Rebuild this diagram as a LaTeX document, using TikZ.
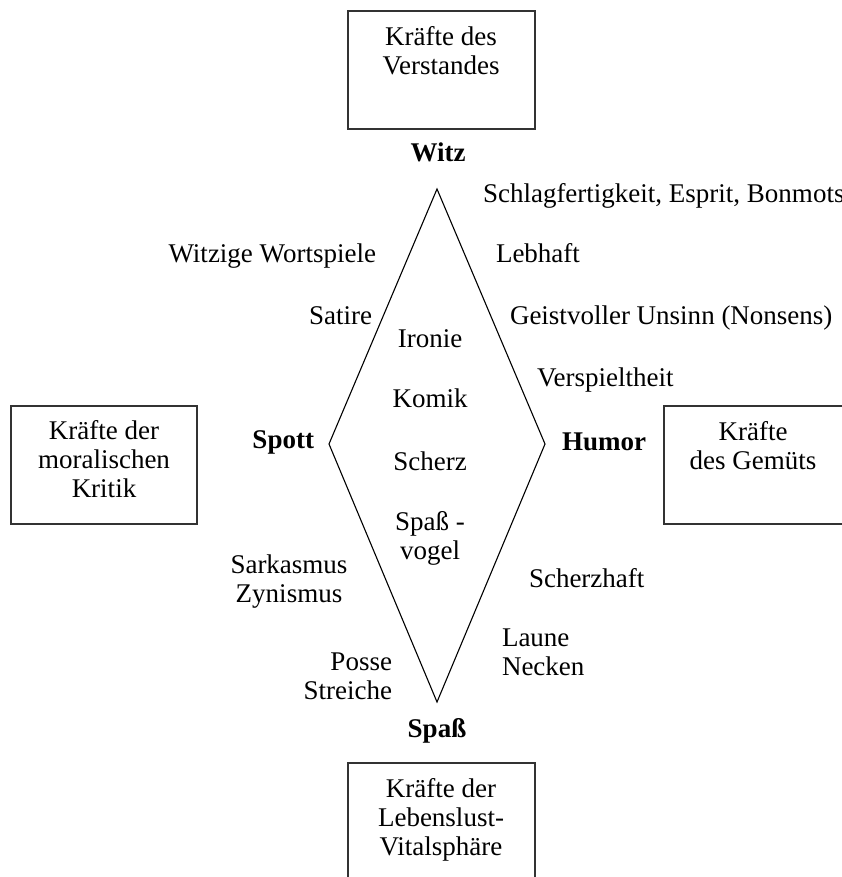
\documentclass[tikz,border=0pt]{standalone}
\usepackage{fontspec}
\setmainfont{Liberation Serif}
\begin{document}
\begin{tikzpicture}[x=1pt,y=-1pt,
  every node/.style={inner sep=0pt, outer sep=0pt, font=\fontsize{27}{29}\selectfont},
  forcebox/.style={draw=black!80, line width=1.3pt, anchor=north west},
  boxtext/.style={align=center, anchor=base},
  word/.style={anchor=base},
  wordl/.style={anchor=base west},
  wordr/.style={anchor=base east},
  pole/.style={anchor=base, font=\fontsize{27}{29}\selectfont\bfseries},
  edge/.style={draw=black, line width=1.1pt, line join=miter}]
\useasboundingbox (0,0) rectangle (841,877);

% four boxes with the kinds of forces
\node[forcebox, minimum width=187pt, minimum height=118pt] (verstand) at (348,11) {};
\node[forcebox, minimum width=186pt, minimum height=118pt] (kritik) at (11,406) {};
\node[forcebox, minimum width=200pt, minimum height=118pt] (gemuet) at (664,406) {};
\node[forcebox, minimum width=187pt, minimum height=130pt] (vital) at (348,763) {};

% multi-line texts: the base anchor sits on the last line
\node[boxtext] (verstandtext) at (441,75) {Kräfte des\\Verstandes};
\node[boxtext] (kritiktext) at (104,497) {Kräfte der\\moralischen\\Kritik};
\node[boxtext] (gemuettext) at (753,469) {Kräfte\\des Gemüts};
\node[boxtext] (vitaltext) at (441,855) {Kräfte der\\Lebenslust-\\Vitalsphäre};

% the diamond
\coordinate (top) at (437,189);
\coordinate (left) at (329,444);
\coordinate (right) at (545,444);
\coordinate (bottom) at (437,702);
\draw[edge] (top) -- (right) -- (bottom) -- (left) -- cycle;

% the four poles
\node[pole] (witz) at (438,162) {Witz};
\node[pole, anchor=base east] (spott) at (314,448) {Spott};
\node[pole, anchor=base west] (humor) at (562,450) {Humor};
\node[pole] (spass) at (437,737) {Spaß};

% inside the diamond
\node[word] (ironie) at (430,347) {Ironie};
\node[word] (komik) at (430,407) {Komik};
\node[word] (scherz) at (430,470) {Scherz};
\node[boxtext] (spassvogel) at (430,559) {Spaß -\\vogel};

% upper left side
\node[wordr] (wortspiele) at (376,262) {Witzige Wortspiele};
\node[wordr] (satire) at (372,324) {Satire};

% upper right side
\node[wordl] (schlag) at (483,203) {Schlagfertigkeit, Esprit, Bonmots};
\node[wordl] (lebhaft) at (496,262) {Lebhaft};
\node[wordl] (unsinn) at (510,324) {Geistvoller Unsinn (Nonsens)};
\node[wordl] (verspielt) at (537,386) {Verspieltheit};

% lower left side
\node[boxtext] (sarkasmus) at (289,602) {Sarkasmus\\Zynismus};
\node[boxtext, align=right, anchor=base east] (posse) at (392,699) {Posse\\Streiche};

% lower right side
\node[wordl] (scherzhaft) at (529,587) {Scherzhaft};
\node[boxtext, align=left, anchor=base west] (laune) at (502,675) {Laune\\Necken};
\end{tikzpicture}
\end{document}
